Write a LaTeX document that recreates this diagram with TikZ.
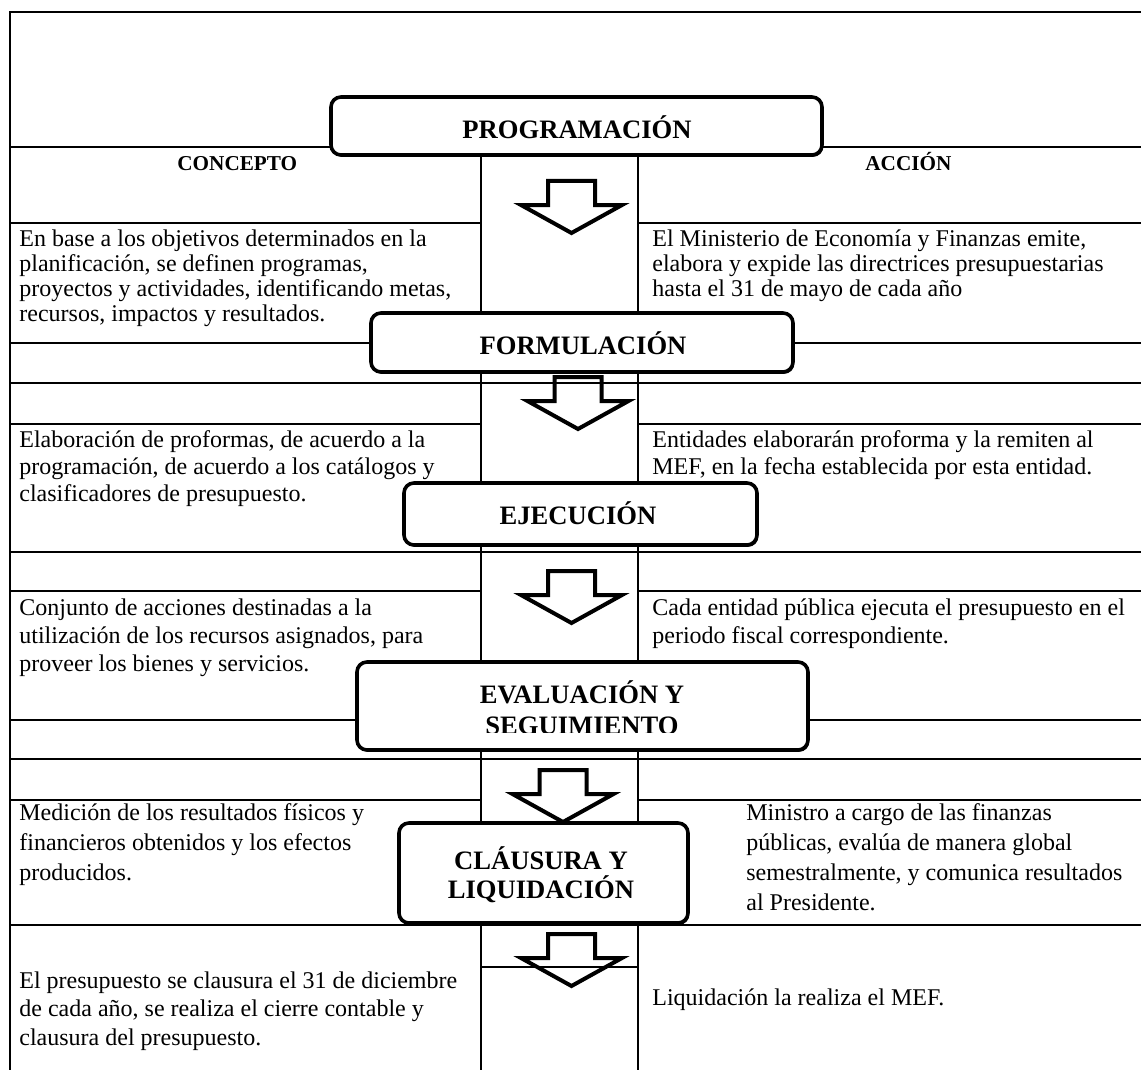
\documentclass[tikz,border=0pt]{standalone}
\usepackage{fontspec}
\setmainfont{Liberation Serif}
\usetikzlibrary{shadows}
\begin{document}
\begin{tikzpicture}[x=0.5pt,y=-0.5pt,
  rule/.style={line width=0.9pt},
  stage/.style={draw, line width=1.8pt, rounded corners=5pt, fill=white, inner sep=0pt,
    drop shadow={shadow xshift=0.6pt, shadow yshift=-0.9pt, fill=black, opacity=1}},
  title/.style={inner sep=0pt, align=center, font=\fontsize{13.3}{#1}\selectfont\bfseries},
  title/.default=15pt,
  colhead/.style={anchor=base west, inner sep=0pt, font=\fontsize{10.6}{13}\selectfont\bfseries},
  cell/.style={anchor=north west, inner sep=0pt, align=left, font=\fontsize{12}{#1}\selectfont},
  arrowline/.style={line width=2pt, line join=miter},
  blockarrow/.pic={\draw[arrowline] (-23.5,0) -- (-23.5,24) -- (-50.5,24) -- (0,52)
      -- (50.5,24) -- (23.5,24) -- (23.5,0) -- cycle;}
]
\useasboundingbox (0,0) rectangle (1141,1070);

% table frame and column rules
\draw[rule] (1141,12) -- (10,12) -- (10,1070);
\draw[rule] (481,147) -- (481,1070);
\draw[rule] (638,147) -- (638,1070);
% rules across the whole width
\foreach \yy in {147,343,383,552,759,925}
  \draw[rule] (10,\yy) -- (1141,\yy);
% rules in the two side columns only
\foreach \yy in {223,424,591,720,800}{
  \draw[rule] (10,\yy) -- (481,\yy);
  \draw[rule] (638,\yy) -- (1141,\yy);
}
% rule in the middle column only
\draw[rule] (481,967) -- (638,967);

% column headings
\node[colhead] (concepto) at (177,170) {CONCEPTO};
\node[colhead] (accion) at (865,170) {ACCIÓN};

% stage boxes
\node[stage, minimum width=245.5pt, minimum height=29pt] (programacion) at (576.5,126) {};
\node[stage, minimum width=211pt, minimum height=29.5pt] (formulacion) at (582,342.5) {};
\node[stage, minimum width=176.5pt, minimum height=31pt] (ejecucion) at (580.5,514) {};
\node[stage, minimum width=225.5pt, minimum height=44pt] (evaluacion) at (582.5,706) {};
\node[stage, minimum width=144.5pt, minimum height=50pt] (clausura) at (543.5,873) {};

% stage titles
\node[title, anchor=base] (t-programacion) at (577,139) {PROGRAMACIÓN};
\node[title, anchor=base] (t-formulacion) at (583,354) {FORMULACIÓN};
\node[title, anchor=base] (t-ejecucion) at (578,524) {EJECUCIÓN};
\begin{scope}
  \clip (357,662) rectangle (808,732);
  \node[title=15.5pt, anchor=north] (t-evaluacion) at (582,677)
    {\rule{0pt}{13pt}EVALUACIÓN Y\\SEGUIMIENTO};
\end{scope}
\node[title=14.5pt, anchor=north] (t-clausura) at (541,843)
  {\rule{0pt}{13pt}CLÁUSURA Y\\LIQUIDACIÓN};

% down arrows in the middle column
\pic at (571.5,181) {blockarrow};
\pic at (578,377) {blockarrow};
\pic at (571.5,571) {blockarrow};
\pic at (563,770) {blockarrow};
\pic at (571.5,934) {blockarrow};

% concept column
\node[cell=12.5pt] (c-programacion) at (19,226) {\rule{0pt}{10pt}En base a los objetivos determinados en la\\
  planificación, se definen programas,\\
  proyectos y actividades, identificando metas,\\
  recursos, impactos y resultados.};
\node[cell=13.5pt] (c-formulacion) at (19,427) {\rule{0pt}{10pt}Elaboración de proformas, de acuerdo a la\\
  programación, de acuerdo a los catálogos y\\
  clasificadores de presupuesto.};
\node[cell=14pt] (c-ejecucion) at (19,595) {\rule{0pt}{10pt}Conjunto de acciones destinadas a la\\
  utilización de los recursos asignados, para\\
  proveer los bienes y servicios.};
\node[cell=15pt] (c-evaluacion) at (19,800) {\rule{0pt}{10pt}Medición de los resultados físicos y\\
  financieros obtenidos y los efectos\\
  producidos.};
\node[cell=14.25pt] (c-clausura) at (19,968) {\rule{0pt}{10pt}El presupuesto se clausura el 31 de diciembre\\
  de cada año, se realiza el cierre contable y\\
  clausura del presupuesto.};

% action column
\node[cell=12.5pt] (a-programacion) at (652,226) {\rule{0pt}{10pt}El Ministerio de Economía y Finanzas emite,\\
  elabora y expide las directrices presupuestarias\\
  hasta el 31 de mayo de cada año};
\node[cell=13.5pt] (a-formulacion) at (652,427) {\rule{0pt}{10pt}Entidades elaborarán proforma y la remiten al\\
  MEF, en la fecha establecida por esta entidad.};
\node[cell=14pt] (a-ejecucion) at (652,595) {\rule{0pt}{10pt}Cada entidad pública ejecuta el presupuesto en el\\
  periodo fiscal correspondiente.};
\node[cell=15pt] (a-evaluacion) at (746,800) {\rule{0pt}{10pt}Ministro a cargo de las finanzas\\
  públicas, evalúa de manera global\\
  semestralmente, y comunica resultados\\
  al Presidente.};
\node[cell=14pt] (a-clausura) at (652,985) {\rule{0pt}{10pt}Liquidación la realiza el MEF.};
\end{tikzpicture}
\end{document}
